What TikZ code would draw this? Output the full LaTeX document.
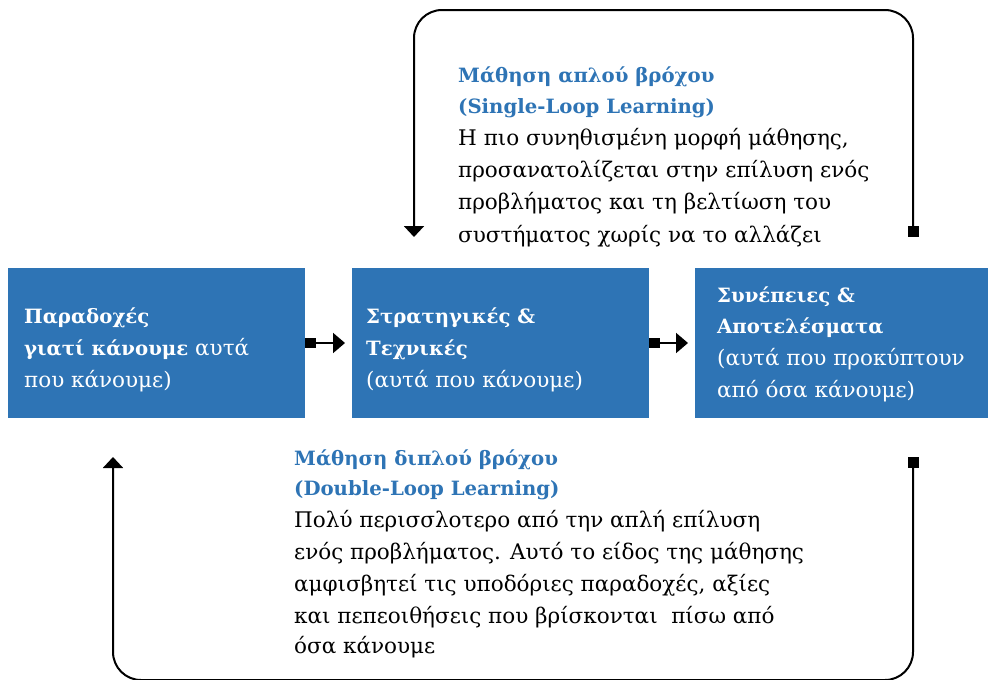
\documentclass[tikz,border=0pt]{standalone}
\usepackage{fontspec}
\setmainfont{DejaVu Serif}
\usetikzlibrary{arrows.meta}
\definecolor{boxblue}{HTML}{2E74B5}
\newcommand{\bfs}{\fontsize{19.7}{32}\selectfont\bfseries}
\begin{document}
\begin{tikzpicture}[x=1pt,y=-1pt,
  blockbox/.style={fill=boxblue,draw=none},
  conn/.style={line width=2pt,draw=black},
  sqtri/.style={conn,{Square[length=11pt,width=10pt]}-{Triangle[length=12pt,width=20pt]}},
  looptri/.style={conn,rounded corners=28pt,{Square[length=11pt,width=11pt]}-{Triangle[length=11pt,width=20pt]}},
  txt/.style={anchor=base west,inner sep=0pt,font=\fontsize{21.5}{32}\selectfont},
  wtxt/.style={txt,text=white},
  btxt/.style={txt,text=boxblue,font=\bfs},
]
\useasboundingbox (0,0) rectangle (989,680);
% boxes
\path[blockbox] (8,268) rectangle (305,418) node[midway,inner sep=0pt] (box1) {};
\path[blockbox] (352,268) rectangle (649,418) node[midway,inner sep=0pt] (box2) {};
\path[blockbox] (695,268) rectangle (988,418) node[midway,inner sep=0pt] (box3) {};
\coordinate (b1e) at (305,343);
\coordinate (b2w) at (345,343);
\coordinate (b2e) at (649,343);
\coordinate (b3w) at (688,343);
% box texts
\node[wtxt] (p1) at (24,323) {\bfs Παραδοχές};
\node[wtxt] (p2) at (24,355) {{\bfs γιατί κάνουμε} αυτά};
\node[wtxt] (p3) at (24,387) {που κάνουμε)};
\node[wtxt] (s1) at (366,323) {\bfs Στρατηγικές \&};
\node[wtxt] (s2) at (366,355) {\bfs Τεχνικές};
\node[wtxt] (s3) at (366,387) {(αυτά που κάνουμε)};
\node[wtxt] (c1) at (717,302) {\bfs Συνέπειες \&};
\node[wtxt] (c2) at (717,333) {\bfs Αποτελέσματα};
\node[wtxt] (c3) at (717,365) {(αυτά που προκύπτουν};
\node[wtxt] (c4) at (717,397) {από όσα κάνουμε)};
% arrows between boxes
\draw[sqtri] (b1e) -- (b2w);
\draw[sqtri] (b2e) -- (b3w);
% single loop
\coordinate (ls) at (913,237);
\coordinate (le) at (414,237);
\draw[looptri] (ls) -- (913,10) -- (414,10) -- (le);
\node[btxt] (t1) at (458,82) {Μάθηση απλού βρόχου};
\node[btxt] (t2) at (458,113) {(Single-Loop Learning)};
\node[txt] (t3) at (458,145) {Η πιο συνηθισμένη μορφή μάθησης,};
\node[txt] (t4) at (458,177) {προσανατολίζεται στην επίλυση ενός};
\node[txt] (t5) at (458,209) {προβλήματος και τη βελτίωση του};
\node[txt] (t6) at (458,242) {συστήματος χωρίς να το αλλάζει};
% double loop
\coordinate (ds) at (913,457);
\coordinate (de) at (113,457);
\draw[looptri] (ds) -- (913,680) -- (113,680) -- (de);
\node[btxt] (d1) at (294,465) {Μάθηση διπλού βρόχου};
\node[btxt] (d2) at (294,495) {(Double-Loop Learning)};
\node[txt] (d3) at (294,527) {Πολύ περισσλοτερο από την απλή επίλυση};
\node[txt] (d4) at (294,559) {ενός προβλήματος. Αυτό το είδος της μάθησης};
\node[txt] (d5) at (294,591) {αμφισβητεί τις υποδόριες παραδοχές, αξίες};
\node[txt] (d6) at (294,623) {και πεπεοιθήσεις που βρίσκονται \ πίσω από};
\node[txt] (d7) at (294,653) {όσα κάνουμε};
\end{tikzpicture}
\end{document}
